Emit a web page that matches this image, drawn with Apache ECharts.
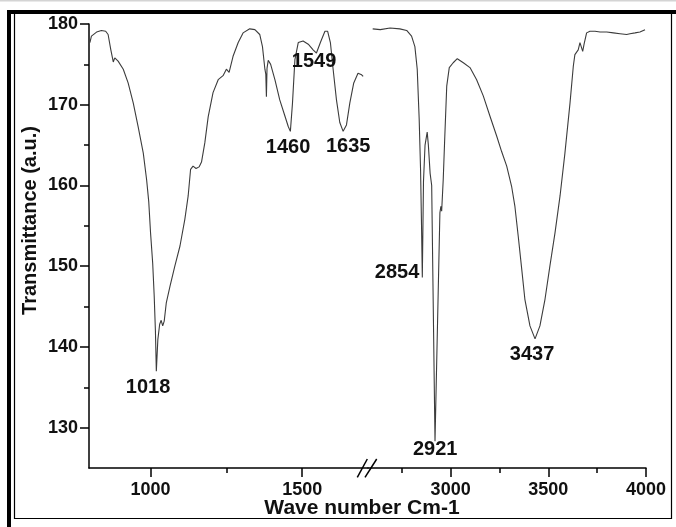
<!DOCTYPE html>
<html><head><meta charset="utf-8">
<script src="https://cdn.jsdelivr.net/npm/echarts@6/dist/echarts.min.js"></script>
<style>html,body{margin:0;padding:0;background:#fff}#c{width:676px;height:527px}</style>
</head><body><div id="c"></div>
<script>
// Low wavenumber segment (cm-1) and transmittance
const lowX = [800,805,822,838,852,860,869,877,882,893,910,926,943,959,976,987,994,1000,1007,1012,1016,1019,1024,1030,1035,1040,1045,1052,1064,1080,1097,1113,1124,1132,1140,1150,1160,1168,1179,1190,1206,1223,1239,1250,1259,1272,1289,1305,1327,1344,1360,1369,1377,1380,1382,1384,1388,1396,1410,1426,1443,1454,1461,1468,1476,1487,1503,1520,1536,1547,1560,1575,1584,1593,1602,1613,1624,1635,1646,1657,1670,1684,1696,1701];
const lowY = [177.7,178.5,179.0,179.2,179.1,178.7,176.8,175.3,175.8,175.4,174.4,172.7,170.2,167.3,164.0,160.7,158.0,154.1,150.4,146.3,142.0,137.0,140.9,142.8,143.3,142.6,143.2,145.5,147.5,150.0,152.5,155.8,158.7,162.0,162.4,162.1,162.3,162.9,165.3,168.5,171.5,173.1,173.6,174.4,174.0,176.0,177.7,178.9,179.4,179.3,178.7,177.2,174.4,173.8,171.0,174.5,175.5,175.0,173.1,170.6,168.6,167.3,166.7,170.2,175.6,177.7,177.9,177.5,176.8,176.4,177.7,179.1,179.1,177.7,174.4,170.6,167.8,166.7,167.5,170.2,172.7,173.9,173.7,173.5];
// High wavenumber segment
const highX = [2601,2640,2690,2740,2775,2800,2817,2829,2839,2846,2851,2855,2861,2869,2880,2886,2895,2903,2920,2945,2950,2954,2962,2970,2980,2993,3013,3034,3065,3099,3133,3167,3201,3236,3261,3287,3312,3329,3346,3364,3380,3406,3432,3457,3483,3508,3534,3560,3585,3611,3628,3636,3653,3662,3676,3683,3696,3713,3739,3765,3799,3833,3867,3901,3918,3944,3969,3995];
const highY = [179.4,179.3,179.5,179.4,179.2,178.5,177.2,174.4,168.2,162.0,155.0,148.6,160.5,165.0,166.6,165.0,161.5,160.0,128.3,156.6,157.4,156.8,160.7,166.0,172.3,174.6,175.2,175.7,175.2,174.6,173.1,171.1,168.6,166.1,164.2,162.4,159.9,157.4,153.7,149.6,145.9,142.6,141.0,142.6,145.9,150.0,154.1,158.7,164.0,170.2,174.8,176.2,176.8,177.7,176.6,177.5,178.9,179.1,179.1,179.0,179.0,178.9,178.8,178.7,178.8,178.9,179.0,179.3];
// Peak annotations
const peakLabels = ['1018','1460','1549','1635','2854','2921','3437'];
const peakX = [1018,1460,1549,1635,2854,2921,3437];
const peakY = [137.0,166.7,176.4,166.7,148.6,128.3,141.0];
// Tick values
const yTickLabels = [130,140,150,160,170,180];
const yMinorTicks = [135,145,155,165,175];
const lowTickLabels = [1000,1500];
const lowMinorTicks = [1250];
const highTickLabels = [3000,3500,4000];
const highMinorTicks = [2750,3250,3750];

const FONT = '"Liberation Sans", Arial, sans-serif';
const labelOffsets = {'1018':[-8,16],'1460':[-2,16],'1549':[-3,8],'1635':[5,15],'2854':[-25,-5],'2921':[0,8],'3437':[-4,16]};

function zip(xs, ys){ return xs.map((x,i)=>[x, ys[i]]); }
function peaksIn(lo, hi){
  const out=[];
  peakLabels.forEach((t,i)=>{
    if(peakX[i]>=lo && peakX[i]<=hi) out.push({name:t, coord:[peakX[i],peakY[i]], label:{offset:labelOffsets[t]}});
  });
  return out;
}
const axLine = {show:true, onZero:false, lineStyle:{color:'#000', width:1.5}};
const lblStyle = {fontSize:18, fontWeight:'bold', color:'#111', fontFamily:FONT};
const G = {top:24, height:444};
const LOWMIN=797, LOWMAX=1717, HIMIN=2577, HIMAX=4000, YMIN=125, YMAX=180;

function mainX(idx, min, max, ticks){
  return {type:'value', gridIndex:idx, min, max, axisLine:axLine, splitLine:{show:false},
    axisTick:{show:true, customValues:ticks, length:9, lineStyle:{color:'#000', width:1.5}},
    axisLabel:Object.assign({customValues:ticks, margin:13, formatter:v=>String(v)}, lblStyle)};
}
function minorX(idx, min, max, ticks){
  return {type:'value', gridIndex:idx, min, max, axisLine:{show:false, onZero:false}, splitLine:{show:false},
    axisTick:{show:true, customValues:ticks, length:5, lineStyle:{color:'#000', width:1.5}},
    axisLabel:{show:false}};
}

const option = {
  animation:false,
  backgroundColor:'#fff',
  grid:[
    {left:89, width:279, top:G.top, height:G.height},
    {left:89, width:279, top:G.top, height:G.height},
    {left:368, width:278, top:G.top, height:G.height},
    {left:368, width:278, top:G.top, height:G.height}
  ],
  xAxis:[
    mainX(0, LOWMIN, LOWMAX, lowTickLabels),
    minorX(1, LOWMIN, LOWMAX, lowMinorTicks),
    mainX(2, HIMIN, HIMAX, highTickLabels),
    minorX(3, HIMIN, HIMAX, highMinorTicks)
  ],
  yAxis:[
    {type:'value', gridIndex:0, min:YMIN, max:YMAX, axisLine:axLine, splitLine:{show:false},
     axisTick:{show:true, customValues:yTickLabels, length:9, lineStyle:{color:'#000', width:1.5}},
     axisLabel:Object.assign({customValues:yTickLabels, margin:11, formatter:v=>String(v)}, lblStyle)},
    {type:'value', gridIndex:1, min:YMIN, max:YMAX, axisLine:{show:false}, splitLine:{show:false},
     axisTick:{show:true, customValues:yMinorTicks, length:5, lineStyle:{color:'#000', width:1.5}},
     axisLabel:{show:false}},
    {type:'value', gridIndex:2, min:YMIN, max:YMAX, show:false},
    {type:'value', gridIndex:3, min:YMIN, max:YMAX, show:false}
  ],
  series:[
    {type:'line', xAxisIndex:0, yAxisIndex:0, data:zip(lowX, lowY), showSymbol:false, symbol:'none',
     lineStyle:{color:'#3c3c3c', width:1.1},
     markPoint:{symbol:'circle', symbolSize:2, itemStyle:{color:'rgba(0,0,0,0)'},
       label:{show:true, position:'inside', formatter:'{b}', fontSize:20, fontWeight:'bold', color:'#111', fontFamily:FONT},
       data:peaksIn(LOWMIN, LOWMAX)}},
    {type:'line', xAxisIndex:2, yAxisIndex:2, data:zip(highX, highY), showSymbol:false, symbol:'none',
     lineStyle:{color:'#3c3c3c', width:1.1},
     markPoint:{symbol:'circle', symbolSize:2, itemStyle:{color:'rgba(0,0,0,0)'},
       label:{show:true, position:'inside', formatter:'{b}', fontSize:20, fontWeight:'bold', color:'#111', fontFamily:FONT},
       data:peaksIn(HIMIN, HIMAX)}}
  ],
  graphic:[
    {type:'rect', shape:{x:0,y:0,width:676,height:1.5}, style:{fill:'#d4d4d4'}},
    {type:'rect', shape:{x:7,y:10,width:669,height:4}, style:{fill:'#000'}},
    {type:'rect', shape:{x:7,y:10,width:4,height:517}, style:{fill:'#000'}},
    {type:'polyline', shape:{points:[[14.5,14],[14.5,518.5],[671.5,518.5],[671.5,14]]}, style:{stroke:'#000', lineWidth:1.2, fill:null}},
    {type:'line', shape:{x1:357.3,y1:477.3,x2:367.3,y2:459}, style:{stroke:'#000', lineWidth:1.5}},
    {type:'line', shape:{x1:365,y1:477.3,x2:376.7,y2:459}, style:{stroke:'#000', lineWidth:1.5}},
    {type:'text', x:362, y:508.5, style:{text:'Wave number Cm-1', fontSize:21, fontWeight:'bold', fill:'#111', fontFamily:FONT, textAlign:'center', textVerticalAlign:'middle'}},
    {type:'text', x:30, y:220.5, rotation:Math.PI/2, style:{text:'Transmittance (a.u.)', fontSize:20, fontWeight:'bold', fill:'#111', fontFamily:FONT, textAlign:'center', textVerticalAlign:'middle'}}
  ]
};
const chart = echarts.init(document.getElementById('c'), null, {renderer:'canvas'});
chart.setOption(option);
</script></body></html>
